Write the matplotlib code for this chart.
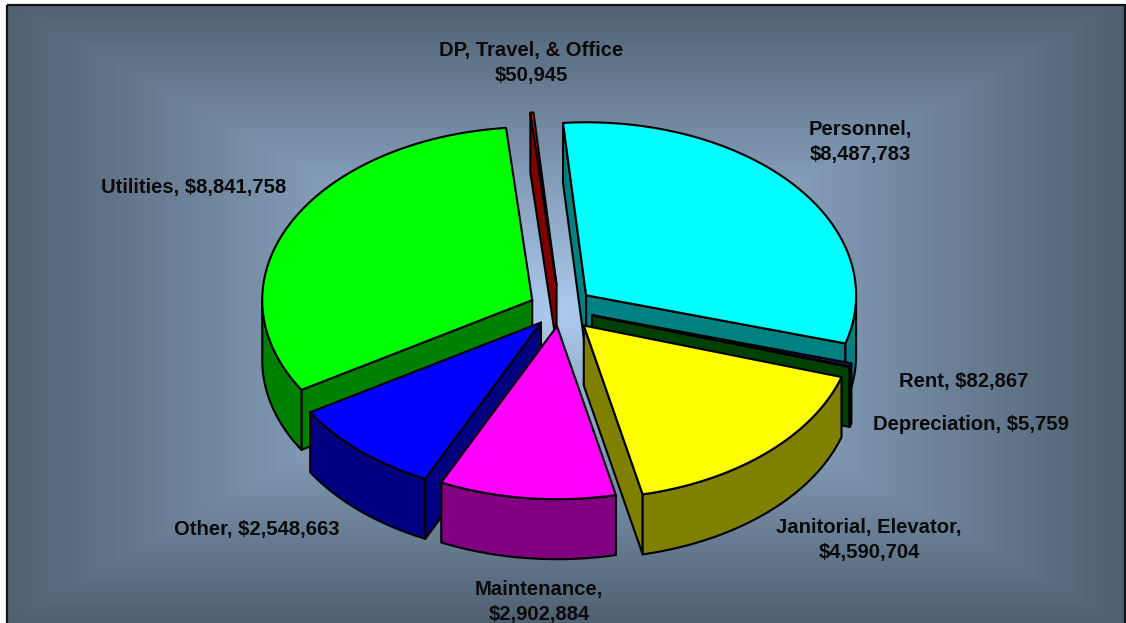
import numpy as np
import matplotlib
matplotlib.use('Agg')
import matplotlib.pyplot as plt
from matplotlib.patches import Polygon, Rectangle

names = ['Personnel', 'Rent', 'Depreciation', 'Janitorial, Elevator',
         'Maintenance', 'Other', 'Utilities', 'DP, Travel, & Office']
values = [8487783, 82867, 5759, 4590704, 2902884, 2548663, 8841758, 50945]
explode = [0.125, 0.124, 0.124, 0.13, 0.1, 0.105, 0.115, 0.14]
top_colors = ['#00ffff', '#1a1a70', '#008000', '#ffff00',
              '#ff00ff', '#0000ff', '#00ff00', '#ff0000']
wall_colors = ['#008080', '#004000', '#004000', '#808000',
               '#800080', '#000080', '#008000', '#800000']
# back to front
draw_order = [7, 6, 0, 1, 2, 3, 5, 4]

label_text = ['Personnel,\n$8,487,783', 'Rent, $82,867', 'Depreciation, $5,759',
              'Janitorial, Elevator,\n$4,590,704', 'Maintenance,\n$2,902,884',
              'Other, $2,548,663', 'Utilities, $8,841,758',
              'DP, Travel, & Office\n$50,945']
label_pos = [(860, 142), (964, 381), (971, 425), (869, 540), (539, 602),
             (257, 529), (194, 188), (531, 63)]

cx, cy = 560, 309
rx, ry = 270, 173
depth = 60
start = -4.9
lw = 1.5

fig = plt.figure(figsize=(11.26, 6.23), dpi=100)
ax = fig.add_axes([0, 0, 1, 1])

# rectangular gradient behind everything
xx, yy = np.meshgrid(np.linspace(7, 1125, 560), np.linspace(5, 623, 310))
t = np.maximum(np.abs(xx - 562) / 558, np.abs(yy - 312) / 310)
inner = np.array([0xab, 0xca, 0xee]) / 255
outer = np.array([0x4f, 0x60, 0x71]) / 255
bg = inner + (outer - inner) * t[..., None]
ax.imshow(bg, extent=(7, 1125, 623, 5), aspect='auto', zorder=0, interpolation='bilinear')
ax.set_xlim(0, 1126)
ax.set_ylim(623, 0)
ax.axis('off')
ax.add_patch(Rectangle((7, 5), 1118, 640, fill=False, ec='#111111', lw=1.6, zorder=1))

total = sum(values)
sweeps = np.array(values) / total * 360
edges = start + np.concatenate([[0], np.cumsum(sweeps)])


def wall(points, color, zorder):
    # points run along the top edge, the lower edge is the same shifted down
    pts = np.array(points)
    low = pts[::-1] + [0, depth]
    ax.add_patch(Polygon(np.vstack([pts, low]), closed=True, fc=color, ec='black',
                         lw=lw, joinstyle='round', zorder=zorder))


z = 2
for i in draw_order:
    a0, a1 = np.radians(edges[i]), np.radians(edges[i + 1])
    mid = (a0 + a1) / 2
    ox = cx + explode[i] * rx * np.sin(mid)
    oy = cy - explode[i] * ry * np.cos(mid)
    th = np.linspace(a0, a1, 80)
    rim = np.column_stack([ox + rx * np.sin(th), oy - ry * np.cos(th)])
    apex = np.array([ox, oy])
    top = np.vstack([apex, rim])
    centre = top.mean(axis=0)

    # only the radial faces that look towards the viewer
    for end in (rim[0], rim[-1]):
        d = end - apex
        n = np.array([-d[1], d[0]])
        if np.dot(n, centre - apex) > 0:
            n = -n
        if n[1] > 0:
            wall([apex, end], wall_colors[i], z)
            z += 1
    # rim part on the front half
    front = np.cos(th) < 0
    if front.sum() > 1:
        wall(rim[front], wall_colors[i], z)
        z += 1
    ax.add_patch(Polygon(top, closed=True, fc=top_colors[i], ec='black',
                         lw=lw, joinstyle='round', zorder=z))
    z += 1

for s, (x, y) in zip(label_text, label_pos):
    ax.text(x, y, s, ha='center', va='center', family='Liberation Sans', weight='bold',
            fontsize=14.6, color='#0a0a0a', linespacing=1.45, zorder=z)

fig.savefig('out.png', dpi=100)
